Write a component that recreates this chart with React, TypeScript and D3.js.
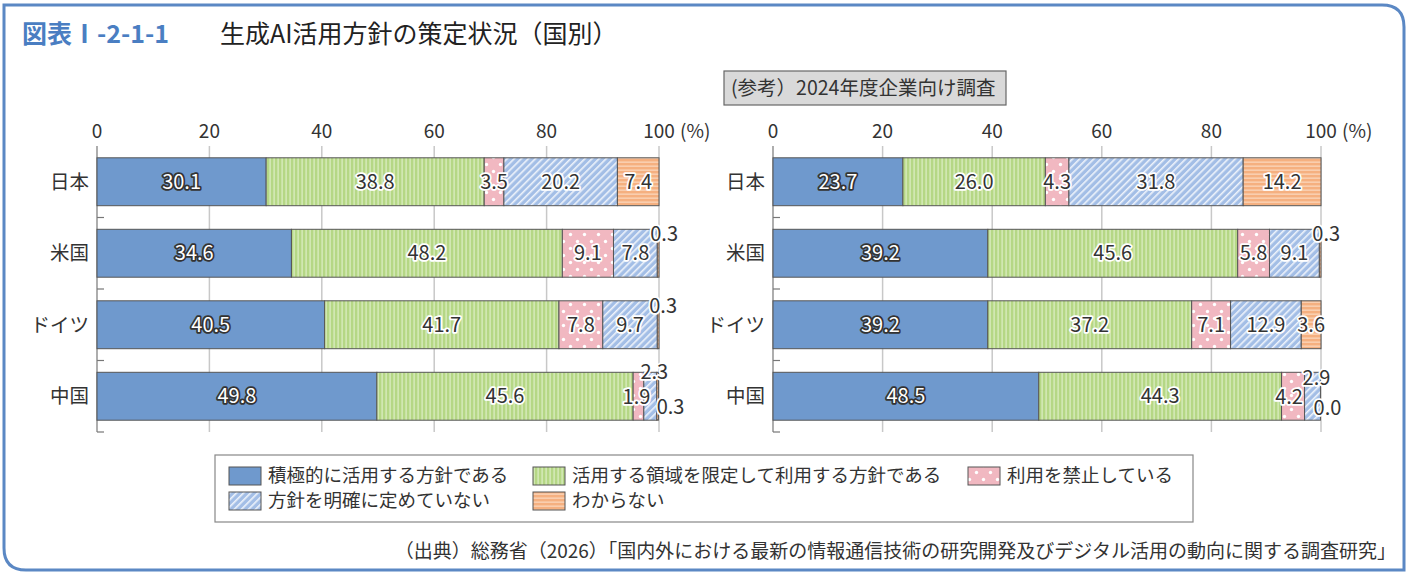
import { useRef, useEffect } from "react";
import * as d3 from "d3";

const categories = ["日本", "米国", "ドイツ", "中国"];
const seriesNames = [
  "積極的に活用する方針である",
  "活用する領域を限定して利用する方針である",
  "利用を禁止している",
  "方針を明確に定めていない",
  "わからない",
];
// 国別調査
const countryValues = [
  [30.1, 38.8, 3.5, 20.2, 7.4],
  [34.6, 48.2, 9.1, 7.8, 0.3],
  [40.5, 41.7, 7.8, 9.7, 0.3],
  [49.8, 45.6, 1.9, 2.3, 0.3],
];
// (参考）2024年度企業向け調査
const companyValues = [
  [23.7, 26.0, 4.3, 31.8, 14.2],
  [39.2, 45.6, 5.8, 9.1, 0.3],
  [39.2, 37.2, 7.1, 12.9, 3.6],
  [48.5, 44.3, 4.2, 2.9, 0.0],
];
const xTicks = [0, 20, 40, 60, 80, 100];

const FONT = "'Noto Sans CJK JP', 'Noto Sans', sans-serif";
const fills = ["#6f99cd", "url(#pGreen)", "url(#pPink)", "url(#pBlue)", "url(#pOrange)"];

// small segments: label moved off the bar (panel|category|series -> dx, dy)
const labelNudge: Record<string, [number, number]> = {
  "0|米国|4": [6, -19],
  "0|ドイツ|4": [5, -19],
  "0|中国|2": [-2, 1],
  "0|中国|3": [4, -24],
  "0|中国|4": [13, 11],
  "1|米国|4": [6, -19],
  "1|中国|2": [-4, 1],
  "1|中国|3": [4, -18],
  "1|中国|4": [7, 12],
};

export default function App() {
  const ref = useRef<SVGSVGElement>(null);

  useEffect(() => {
    if (!ref.current) return;
    const svg = d3.select(ref.current);
    svg.selectAll("*").remove();

    const width = 1410;
    const height = 576;

    // patterns
    const defs = svg.append("defs");
    const green = defs.append("pattern").attr("id", "pGreen").attr("patternUnits", "userSpaceOnUse")
      .attr("width", 4).attr("height", 4);
    green.append("rect").attr("width", 4).attr("height", 4).attr("fill", "#b5d785");
    green.append("rect").attr("x", 1.5).attr("width", 1.2).attr("height", 4).attr("fill", "#deefc6");

    const pink = defs.append("pattern").attr("id", "pPink").attr("patternUnits", "userSpaceOnUse")
      .attr("width", 14).attr("height", 14);
    pink.append("rect").attr("width", 14).attr("height", 14).attr("fill", "#f1b8c1");
    pink.append("circle").attr("cx", 3.5).attr("cy", 3.5).attr("r", 1.7).attr("fill", "#fff");
    pink.append("circle").attr("cx", 10.5).attr("cy", 10.5).attr("r", 1.7).attr("fill", "#fff");

    const blue = defs.append("pattern").attr("id", "pBlue").attr("patternUnits", "userSpaceOnUse")
      .attr("width", 5).attr("height", 5).attr("patternTransform", "rotate(45)");
    blue.append("rect").attr("width", 5).attr("height", 5).attr("fill", "#a3bee6");
    blue.append("rect").attr("x", 0).attr("width", 1.6).attr("height", 5).attr("fill", "#eef3fb");

    const orange = defs.append("pattern").attr("id", "pOrange").attr("patternUnits", "userSpaceOnUse")
      .attr("width", 4).attr("height", 4);
    orange.append("rect").attr("width", 4).attr("height", 4).attr("fill", "#f5b080");
    orange.append("rect").attr("y", 1.5).attr("width", 4).attr("height", 1.3).attr("fill", "#fbd6bb");

    svg.append("rect").attr("width", width).attr("height", height).attr("fill", "#fff");

    // outer frame (rounded top-right and bottom-left)
    const fx0 = 4, fy0 = 5, fx1 = 1404, fy1 = 570, r = 22;
    svg.append("path")
      .attr("d", `M${fx0},${fy0} H${fx1 - r} Q${fx1},${fy0} ${fx1},${fy0 + r} V${fy1} H${fx0 + r} Q${fx0},${fy1} ${fx0},${fy1 - r} Z`)
      .attr("fill", "none").attr("stroke", "#5b88c4").attr("stroke-width", 3);

    // title
    svg.append("text").attr("x", 22).attr("y", 43).attr("font-family", FONT).attr("font-size", 25)
      .attr("font-weight", "bold").attr("fill", "#4a7ec2").text("図表Ⅰ-2-1-1");
    svg.append("text").attr("x", 220).attr("y", 43).attr("font-family", FONT).attr("font-size", 25)
      .attr("fill", "#222").text("生成AI活用方針の策定状況（国別）");

    const y = d3.scaleBand<string>().domain(categories).range([146, 432])
      .paddingInner(0.33).paddingOuter(0.165);

    const panels = [
      { data: countryValues, x: d3.scaleLinear().domain([0, 100]).range([97, 659]), catX: 89 },
      { data: companyValues, x: d3.scaleLinear().domain([0, 100]).range([773, 1321]), catX: 765 },
    ];

    panels.forEach((p, pi) => {
      const g = svg.append("g");
      const [x0, x1] = p.x.range();

      // gridlines
      g.selectAll("line.grid").data(xTicks.slice(1)).enter().append("line")
        .attr("x1", (d) => p.x(d)).attr("x2", (d) => p.x(d))
        .attr("y1", 146).attr("y2", 432)
        .attr("stroke", "#c8c8c8").attr("stroke-width", 1.5);

      // tick labels
      g.selectAll("text.tick").data(xTicks).enter().append("text")
        .attr("x", (d) => p.x(d)).attr("y", 138)
        .attr("text-anchor", "middle").attr("font-family", FONT).attr("font-size", 19)
        .attr("fill", "#333").text((d) => String(d));
      g.append("text").attr("x", x1 + 21).attr("y", 138).attr("font-family", FONT)
        .attr("font-size", 19).attr("fill", "#333").text("(%)");

      // left axis with category-separator ticks
      g.append("line").attr("x1", x0).attr("x2", x0).attr("y1", 146).attr("y2", 432)
        .attr("stroke", "#777").attr("stroke-width", 1.2);
      const step = y.step();
      g.selectAll("line.sep").data(categories).enter().append("line")
        .attr("x1", x0).attr("x2", x0 + 7)
        .attr("y1", (_, i) => 146 + step * (i + 1)).attr("y2", (_, i) => 146 + step * (i + 1))
        .attr("stroke", "#777").attr("stroke-width", 1.2);

      // category labels
      g.selectAll("text.cat").data(categories).enter().append("text")
        .attr("x", p.catX).attr("y", (d) => (y(d) ?? 0) + y.bandwidth() / 2)
        .attr("dy", "0.35em").attr("text-anchor", "end")
        .attr("font-family", FONT).attr("font-size", 19.5).attr("fill", "#333").text((d) => d);

      // stacked bars
      categories.forEach((cat, ci) => {
        const vals = p.data[ci];
        let acc = 0;
        const segs = vals.map((v, si) => {
          const s = { si, v, a: acc, b: acc + v };
          acc += v;
          return s;
        });
        const by = y(cat) ?? 0;
        const bh = y.bandwidth();
        g.selectAll(null).data(segs).enter().append("rect")
          .attr("x", (d) => p.x(d.a)).attr("width", (d) => p.x(d.b) - p.x(d.a))
          .attr("y", by).attr("height", bh)
          .attr("fill", (d) => fills[d.si])
          .attr("stroke", "#555").attr("stroke-width", 1);

        g.selectAll(null).data(segs).enter().append("text")
          .attr("x", (d) => (p.x(d.a) + p.x(d.b)) / 2 + (labelNudge[`${pi}|${cat}|${d.si}`]?.[0] ?? 0))
          .attr("y", (d) => by + bh / 2 + (labelNudge[`${pi}|${cat}|${d.si}`]?.[1] ?? 0))
          .attr("dy", "0.35em").attr("text-anchor", "middle")
          .attr("font-family", FONT).attr("font-size", 20)
          .attr("paint-order", "stroke")
          .attr("stroke-linejoin", "round")
          .attr("stroke-width", 3.5)
          .attr("fill", (d) => (d.si === 0 ? "#fff" : "#333"))
          .attr("stroke", (d) => (d.si === 0 ? "#333" : "#fff"))
          .text((d) => d.v.toFixed(1));
      });
    });

    // reference header box
    svg.append("rect").attr("x", 724).attr("y", 71).attr("width", 282).attr("height", 34)
      .attr("fill", "#d9d9d9").attr("stroke", "#666").attr("stroke-width", 1.2);
    svg.append("text").attr("x", 731).attr("y", 88).attr("dy", "0.35em").attr("font-family", FONT)
      .attr("font-size", 19.5).attr("fill", "#333").text("(参考）2024年度企業向け調査");

    // legend
    svg.append("rect").attr("x", 215).attr("y", 455).attr("width", 978).attr("height", 67)
      .attr("fill", "#fff").attr("stroke", "#888").attr("stroke-width", 1.2);
    const legendPos = [
      [229, 476], [533, 476], [968, 476], [229, 501], [533, 501],
    ];
    const lg = svg.append("g");
    lg.selectAll("rect").data(seriesNames).enter().append("rect")
      .attr("x", (_, i) => legendPos[i][0]).attr("y", (_, i) => legendPos[i][1] - 9)
      .attr("width", 32).attr("height", 18)
      .attr("fill", (_, i) => fills[i]).attr("stroke", "#555").attr("stroke-width", 1);
    lg.selectAll("text").data(seriesNames).enter().append("text")
      .attr("x", (_, i) => legendPos[i][0] + 39).attr("y", (_, i) => legendPos[i][1])
      .attr("dy", "0.35em").attr("font-family", FONT).attr("font-size", 18.5).attr("fill", "#333")
      .text((d) => d);

    // source
    svg.append("text").attr("x", 1396).attr("y", 551).attr("dy", "0.35em").attr("text-anchor", "end")
      .attr("font-family", FONT).attr("font-size", 19).attr("fill", "#333")
      .text("（出典）総務省（2026）「国内外における最新の情報通信技術の研究開発及びデジタル活用の動向に関する調査研究」");
  }, []);

  return (
    <svg ref={ref} width={1410} height={576}
      style={{ position: "absolute", left: 0, top: 0, display: "block" }} />
  );
}
